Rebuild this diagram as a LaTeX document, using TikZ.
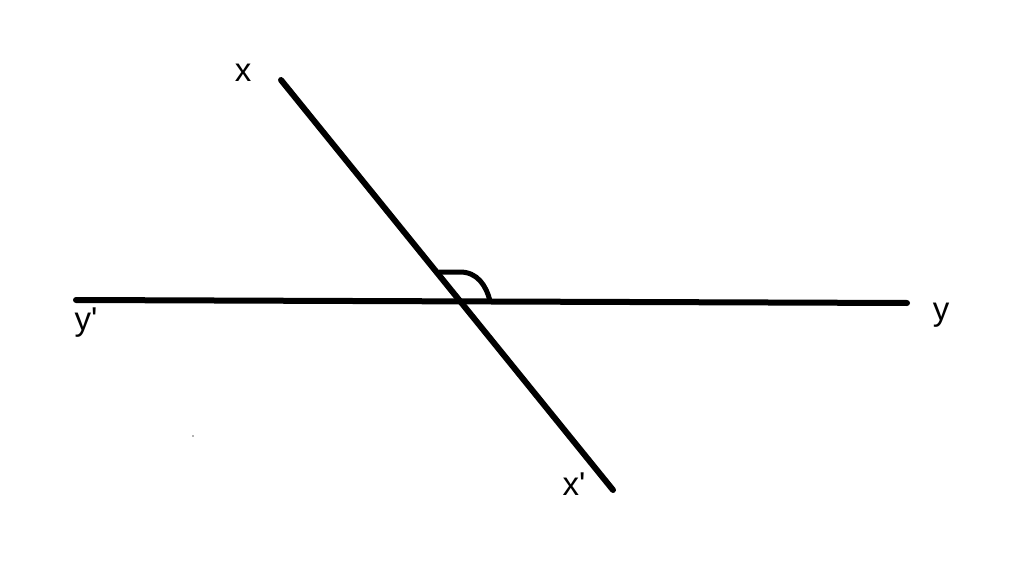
\documentclass[tikz,border=0pt]{standalone}
\usepackage{fontspec}
\newfontfamily\labfont{Liberation Sans}
\begin{document}
\begin{tikzpicture}[x=1pt,y=-1pt,
  ln/.style={line width=6pt,line cap=round},
  lab/.style={font=\labfont\fontsize{33}{38}\selectfont,inner sep=0pt,anchor=base}]
\useasboundingbox (0,0) rectangle (1024,577);
\fill[white] (0,0) rectangle (1024,577);
\coordinate (X) at (281,80);
\coordinate (Xp) at (613,490);
\coordinate (Yp) at (76,300);
\coordinate (Y) at (907,303);
\draw[ln] (X) -- (Xp);
\draw[ln] (Yp) -- (Y);
\coordinate (a1) at (439,272);
\coordinate (a2) at (460,272);
\coordinate (a3) at (490,301);
\draw[line width=5pt] (a1) -- (a2) .. controls (477,272) and (486,285) .. (a3);
\node[lab] (lx) at (243,82) {x};
\node[lab] (lyp) at (86,330) {y\textquotesingle};
\node[lab] (ly) at (941,320) {y};
\node[lab] (lxp) at (574,495) {x\textquotesingle};
\fill[black!60] (193,436) circle (0.8);
\end{tikzpicture}
\end{document}
